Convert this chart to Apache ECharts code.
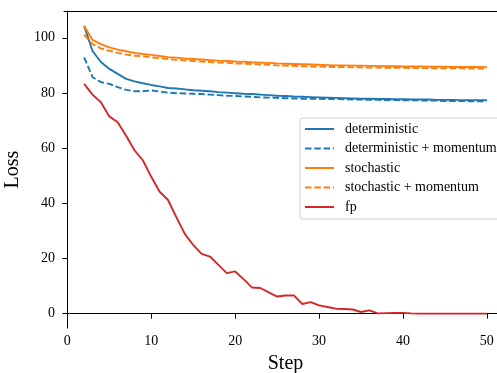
<!DOCTYPE html>
<html>
<head>
<meta charset="utf-8">
<script src="https://cdn.jsdelivr.net/npm/echarts@6/dist/echarts.min.js"></script>
<style>
  html, body { margin: 0; padding: 0; background: #fff; }
  #chart { width: 497px; height: 373px; }
</style>
</head>
<body>
<div id="chart"></div>
<script>
// steps 2..50
const steps = []
for (let s = 2; s <= 50; s++) steps.push(s)

const deterministic = [104.3, 95.2, 91.2, 88.7, 86.9, 85.1, 84.2, 83.5, 82.9, 82.4,
  81.8, 81.6, 81.3, 81.0, 80.8, 80.6, 80.3, 80.1, 79.9, 79.7,
  79.6, 79.4, 79.2, 79.0, 78.9, 78.7, 78.6, 78.5, 78.4, 78.3,
  78.2, 78.1, 78.0, 77.9, 77.9, 77.8, 77.8, 77.7, 77.7, 77.6,
  77.6, 77.6, 77.5, 77.5, 77.5, 77.4, 77.4, 77.4, 77.4]

const deterministicMomentum = [92.9, 85.7, 83.9, 83.3, 82.1, 81.1, 80.6, 80.6, 80.9, 80.5,
  80.1, 79.9, 79.8, 79.7, 79.6, 79.4, 79.2, 79.0, 78.9, 78.7,
  78.6, 78.4, 78.3, 78.2, 78.1, 78.0, 77.9, 77.9, 77.9, 77.8,
  77.8, 77.7, 77.6, 77.6, 77.5, 77.5, 77.4, 77.4, 77.3, 77.3,
  77.3, 77.2, 77.2, 77.1, 77.1, 77.1, 77.0, 77.0, 77.0]

const stochastic = [104.3, 99.2, 97.7, 96.5, 95.7, 95.1, 94.5, 94.1, 93.8, 93.4,
  93.0, 92.8, 92.5, 92.3, 92.1, 91.9, 91.7, 91.6, 91.4, 91.3,
  91.1, 91.0, 90.9, 90.7, 90.6, 90.5, 90.4, 90.3, 90.2, 90.1,
  90.0, 90.0, 89.9, 89.9, 89.8, 89.8, 89.7, 89.7, 89.6, 89.6,
  89.6, 89.5, 89.5, 89.5, 89.4, 89.4, 89.4, 89.4, 89.3]

const stochasticMomentum = [101.1, 97.7, 96.1, 95.3, 94.5, 93.9, 93.5, 93.3, 92.9, 92.6,
  92.3, 92.0, 91.8, 91.6, 91.4, 91.2, 91.0, 90.9, 90.7, 90.6,
  90.5, 90.3, 90.2, 90.0, 89.9, 89.8, 89.7, 89.6, 89.6, 89.5,
  89.4, 89.4, 89.3, 89.3, 89.2, 89.2, 89.1, 89.1, 89.1, 89.0,
  89.0, 89.0, 88.9, 88.9, 88.9, 88.9, 88.8, 88.8, 88.8]

const fp = [83.3, 79.4, 76.6, 71.5, 69.4, 64.5, 59.2, 55.6, 49.6, 44.2,
  41.2, 34.9, 28.9, 24.9, 21.7, 20.7, 17.7, 14.7, 15.3, 12.5,
  9.5, 9.3, 7.7, 6.2, 6.6, 6.6, 3.5, 4.2, 3.0, 2.4,
  1.8, 1.7, 1.5, 0.6, 1.2, 0.1, 0.2, 0.3, 0.3, 0.1,
  0.0, 0.0, 0.0, 0.0, 0.0, 0.0, 0.0, 0.0, 0.0]

const xTicks = [0, 10, 20, 30, 40, 50]
const yTicks = [0, 20, 40, 60, 80, 100]

const FONT = '"Liberation Serif", "DejaVu Serif", serif'
const DASH = [6.5, 2.8]

const pair = (ys) => ys.map((y, i) => [steps[i], y])

const makeLine = (name, data, color, dashed) => ({
  name: name,
  type: 'line',
  data: pair(data),
  symbol: 'none',
  animation: false,
  lineStyle: { color: color, width: 1.9, type: dashed ? DASH : 'solid' },
  itemStyle: { color: color }
})

const chart = echarts.init(document.getElementById('chart'), null, { renderer: 'canvas' })

chart.setOption({
  backgroundColor: '#fff',
  animation: false,
  grid: { left: 64, right: -10, top: 11, bottom: 45, outerBoundsMode: 'none', containLabel: false },
  legend: {
    left: 300,
    top: 118,
    orient: 'vertical',
    itemWidth: 29,
    itemHeight: 12,
    itemGap: 3.5,
    padding: [3, 8, 4, 4],
    borderColor: '#d0d0d0',
    borderWidth: 1,
    borderRadius: 3,
    backgroundColor: 'rgba(255,255,255,0.8)',
    itemStyle: { opacity: 0 },
    textStyle: { fontFamily: FONT, fontSize: 14, color: '#000', padding: [0, 0, 0, 6], lineHeight: 16 },
    data: ['deterministic', 'deterministic + momentum', 'stochastic', 'stochastic + momentum', 'fp']
  },
  xAxis: [
    {
      type: 'value',
      min: -0.4,
      max: 52.4,
      name: 'Step',
      nameLocation: 'middle',
      nameGap: 25.5,
      nameTextStyle: { fontFamily: FONT, fontSize: 20, color: '#000' },
      axisLine: { show: true, lineStyle: { color: '#000', width: 1 } },
      axisTick: { show: true, length: 5, inside: false, customValues: xTicks, lineStyle: { color: '#000' } },
      axisLabel: { customValues: xTicks, margin: 6, fontFamily: FONT, fontSize: 14, color: '#000' },
      splitLine: { show: false }
    },
    {
      type: 'value',
      position: 'top',
      min: -0.4,
      max: 52.4,
      axisLine: { show: true, lineStyle: { color: '#000', width: 1 } },
      axisTick: { show: false },
      axisLabel: { show: false },
      splitLine: { show: false }
    }
  ],
  yAxis: {
    type: 'value',
    min: -5.2,
    max: 109.7,
    name: 'Loss',
    nameLocation: 'middle',
    nameGap: 34,
    nameTextStyle: { fontFamily: FONT, fontSize: 20, color: '#000' },
    axisLine: { show: true, lineStyle: { color: '#000', width: 1 } },
    axisTick: { show: true, length: 5, inside: false, customValues: yTicks, lineStyle: { color: '#000' } },
    axisLabel: { customValues: yTicks, margin: 9, fontFamily: FONT, fontSize: 14, color: '#000' },
    splitLine: { show: false }
  },
  series: [
    makeLine('deterministic', deterministic, '#1f77b4', false),
    makeLine('deterministic + momentum', deterministicMomentum, '#1f77b4', true),
    makeLine('stochastic', stochastic, '#ff7f0e', false),
    makeLine('stochastic + momentum', stochasticMomentum, '#ff7f0e', true),
    makeLine('fp', fp, '#d62728', false)
  ]
})
</script>
</body>
</html>
